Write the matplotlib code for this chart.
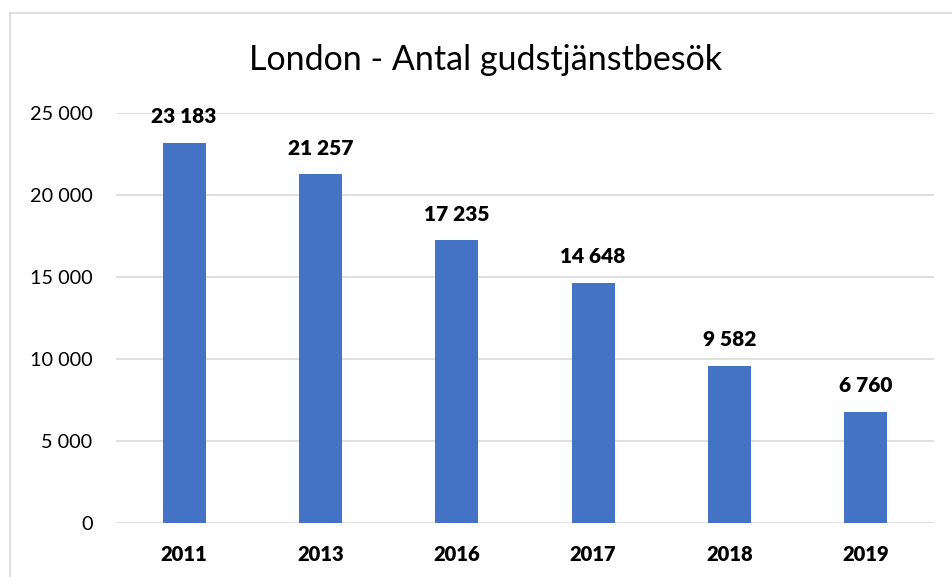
import matplotlib
matplotlib.use("Agg")
import matplotlib.pyplot as plt
from matplotlib.lines import Line2D

years = ["2011", "2013", "2016", "2017", "2018", "2019"]
visits = [23183, 21257, 17235, 14648, 9582, 6760]
yticks = [0, 5000, 10000, 15000, 20000, 25000]

def fmt(v):
    return f"{v:,}".replace(",", " ")

plt.rcParams['font.family'] = ['Lato', 'DejaVu Sans']

fig = plt.figure(figsize=(9.52, 5.77), dpi=100)
ax = fig.add_axes([116/952, 1-523/577, (934-116)/952, (523-113)/577])

x = list(range(len(years)))
ax.bar(x, visits, width=0.315, color="#4472C4", zorder=3)
for xi, v in zip(x, visits):
    ax.annotate(fmt(v), (xi, v), xytext=(0, 12), textcoords="offset points",
                ha="center", va="bottom", fontsize=15, fontweight="heavy",
                color="black")

ax.set_xlim(-0.5, len(years) - 0.5)
ax.set_ylim(0, 25000)
ax.set_yticks(yticks)
ax.set_yticklabels([fmt(t) for t in yticks], fontsize=14.3)
ax.set_xticks(x)
ax.set_xticklabels(years, fontsize=14.5, fontweight="heavy")
ax.tick_params(axis="both", length=0)
ax.tick_params(axis="x", pad=16)
ax.tick_params(axis="y", pad=17)
ax.grid(axis="y", color="#d9d9d9", linewidth=1.2, zorder=0)
for s in ax.spines.values():
    s.set_visible(False)

fig.text(486/952, 1-60/577, "London - Antal gudstjänstbesök", ha="center",
         va="center", fontsize=24.5)

# outer chart border (cropped on right/bottom)
fig.add_artist(Line2D([10/952, 10/952], [0, 1-13/577], transform=fig.transFigure,
                      color="#d9d9d9", linewidth=1.2))
fig.add_artist(Line2D([10/952, 1], [1-13/577, 1-13/577], transform=fig.transFigure,
                      color="#d9d9d9", linewidth=1.2))

fig.savefig("out.png", dpi=100)
